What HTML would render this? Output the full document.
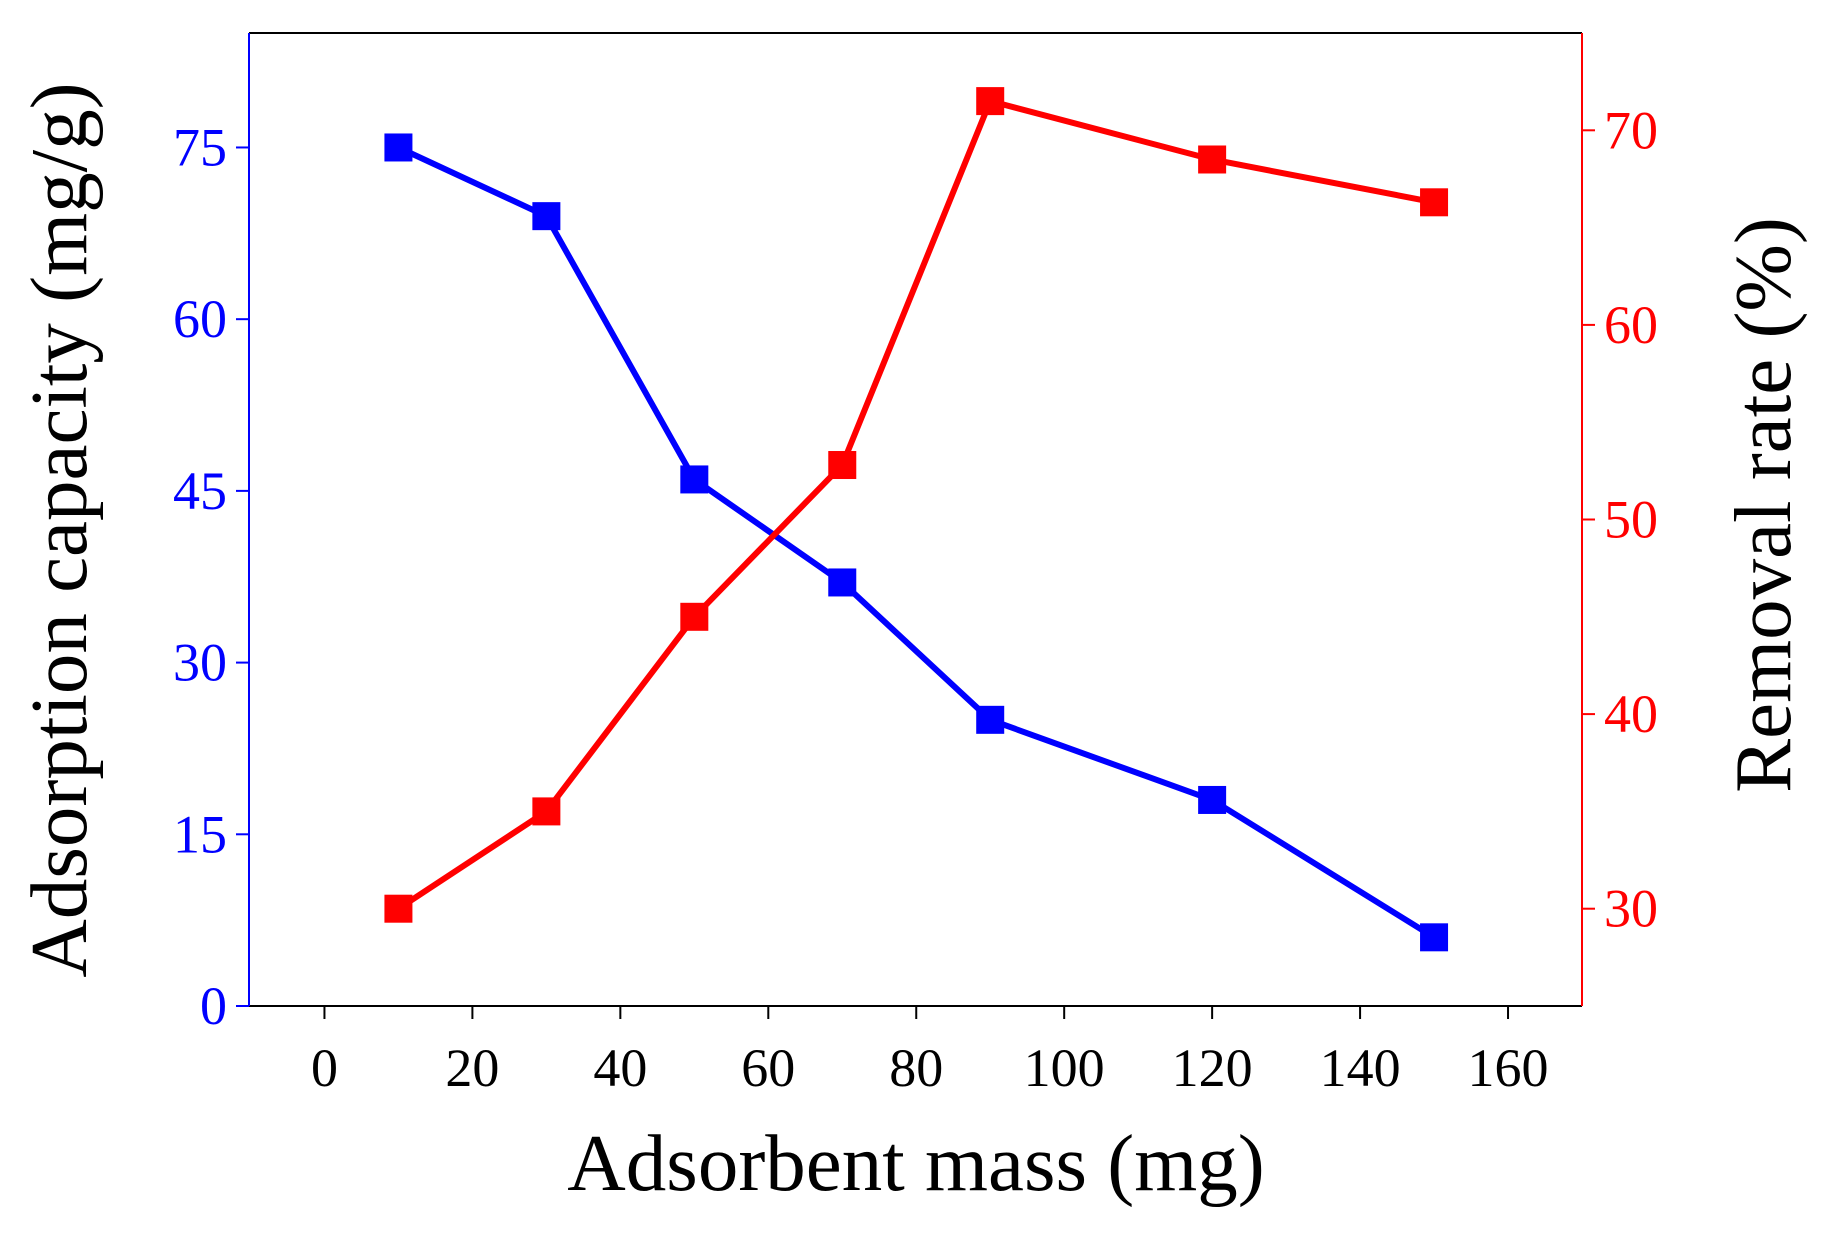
<!DOCTYPE html>
<html><head><meta charset="utf-8"><style>
body{margin:0;background:#fff}
svg{display:block;font-family:"Liberation Serif",serif}
</style></head><body>
<svg id="chart" width="1842" height="1239" viewBox="0 0 1842 1239" xmlns="http://www.w3.org/2000/svg">
<rect width="1842" height="1239" fill="#fff"/>
<g id="axes"></g>
<g id="series"></g>
<text x="916" y="1190" font-size="81" text-anchor="middle" fill="#000">Adsorbent mass (mg)</text>
<text transform="translate(86,530) rotate(-90)" font-size="81" text-anchor="middle" fill="#000">Adsorption capacity (mg/g)</text>
<text transform="translate(1790,505) rotate(-90)" font-size="81" text-anchor="middle" fill="#000">Removal rate (%)</text>
</svg>
<script>
const masses=[10,30,50,70,90,120,150];
const capacity=[75,69,46,37,25,18,6];
const removal=[30,35,45,52.8,71.5,68.5,66.3];
const xTicks=[0,20,40,60,80,100,120,140,160];
const yLeftTicks=[0,15,30,45,60,75];
const yRightTicks=[30,40,50,60,70];

const L=249,R=1582,T=33,B=1006;
const xDom=[-10.2,170],yLDom=[0,85],yRDom=[25,75];
const X=v=>L+(v-xDom[0])/(xDom[1]-xDom[0])*(R-L);
const YL=v=>B-(v-yLDom[0])/(yLDom[1]-yLDom[0])*(B-T);
const YR=v=>B-(v-yRDom[0])/(yRDom[1]-yRDom[0])*(B-T);
const NS='http://www.w3.org/2000/svg';
function mk(tag,attrs,parent){const e=document.createElementNS(NS,tag);for(const k in attrs)e.setAttribute(k,attrs[k]);parent.appendChild(e);return e;}
const ax=document.getElementById('axes'),se=document.getElementById('series');

let e;
e=mk('line',{x1:L,y1:T,x2:R,y2:T,stroke:'#000','stroke-width':2},ax);


e=mk('line',{x1:L,y1:B,x2:R,y2:B,stroke:'#000','stroke-width':2},ax);


e=mk('line',{x1:L,y1:T,x2:L,y2:B,stroke:'#0000ff','stroke-width':2},ax);


e=mk('line',{x1:R,y1:T,x2:R,y2:B,stroke:'#ff0000','stroke-width':2},ax);



xTicks.forEach(v=>{
 const x=X(v);
 e=mk('line',{x1:x,y1:B,x2:x,y2:B+13,stroke:'#000','stroke-width':2},ax);
 
 
 e=mk('text',{x:x,y:B+80,'font-size':54,'text-anchor':'middle',fill:'#000'},ax);
 e.textContent=v;
 
 
});
yLeftTicks.forEach(v=>{
 const y=YL(v);
 e=mk('line',{x1:L-13,y1:y,x2:L,y2:y,stroke:'#0000ff','stroke-width':2},ax);
 
 
 e=mk('text',{x:L-22,y:y+18,'font-size':54,'text-anchor':'end',fill:'#0000ff'},ax);
 e.textContent=v;
 
 
});
yRightTicks.forEach(v=>{
 const y=YR(v);
 e=mk('line',{x1:R,y1:y,x2:R+13,y2:y,stroke:'#ff0000','stroke-width':2},ax);
 
 
 e=mk('text',{x:R+22,y:y+18,'font-size':54,'text-anchor':'start',fill:'#ff0000'},ax);
 e.textContent=v;
 
 
});

function drawSeries(vals,Y,color,name){
 const pts=masses.map((m,i)=>X(m)+','+Y(vals[i])).join(' ');
 e=mk('polyline',{points:pts,fill:'none',stroke:color,'stroke-width':6},se);
 
 
 masses.forEach((m,i)=>{
  e=mk('rect',{x:X(m)-14,y:Y(vals[i])-14,width:28,height:28,fill:color},se);
  
  
 });
}
drawSeries(capacity,YL,'#0000ff','capacity');
drawSeries(removal,YR,'#ff0000','removal');
</script>
</body></html>
